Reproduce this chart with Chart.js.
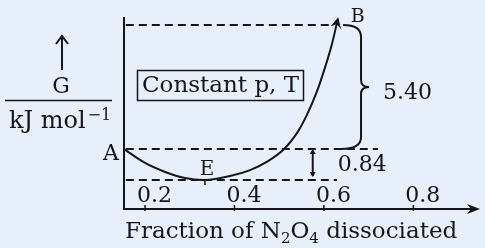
<!DOCTYPE html>
<html>
<head>
<meta charset="utf-8">
<script src="https://cdn.jsdelivr.net/npm/chart.js@4/dist/chart.umd.min.js"></script>
<style>
  html, body { margin: 0; padding: 0; background: #e7effb; }
  canvas { display: block; }
</style>
</head>
<body>
<canvas id="chart" width="485" height="248"></canvas>
<script>
// fraction of N2O4 dissociated along the drawn curve
var fraction = [0.153, 0.2, 0.245, 0.289, 0.334, 0.39, 0.435, 0.475, 0.511, 0.54, 0.562, 0.584, 0.602, 0.618, 0.631];
// G in sketch units (E = 0, A = 1, B = 5), the figure is not to scale
var gibbs = [1.0, 0.55, 0.26, 0.065, 0.0, 0.13, 0.32, 0.61, 1.0, 1.52, 2.1, 2.84, 3.61, 4.39, 5.19];

var xTicks = [0.2, 0.4, 0.6, 0.8];
var xTickLabels = ['0.2', '0.4', '0.6', '0.8'];

var levelB = 5;
var levelA = 1;
var levelE = 0;
var pointE = 0.334;
// where each dashed guide stops
var guideStart = 0.157;
var guideEnds = [0.618, 0.721, 0.629];
var gapAB = '5.40';
var gapAE = '0.84';

(function(Chart) {
  'use strict';

  var INK = '#161616';
  var FONT = 'DejaVu Serif';

  function font(size) {
    return size + 'px "' + FONT + '"';
  }

  function guide(level, end) {
    return {
      data: [{ x: guideStart, y: level }, { x: end, y: level }],
      borderColor: INK,
      borderWidth: 1.8,
      borderDash: [8, 5],
      pointRadius: 0
    };
  }

  var sketch = {
    id: 'sketch',

    afterDraw: function(chart) {
      var ctx = chart.ctx;
      var xs = chart.scales.x;
      var ys = chart.scales.y;
      var px = function(v) { return xs.getPixelForValue(v); };
      var py = function(v) { return ys.getPixelForValue(v); };
      var left = xs.left, right = xs.right, top = ys.top, bottom = ys.bottom;

      ctx.save();
      ctx.strokeStyle = INK;
      ctx.fillStyle = INK;
      ctx.lineWidth = 2;
      ctx.lineCap = 'butt';

      // axes
      ctx.beginPath();
      ctx.moveTo(left, top);
      ctx.lineTo(left, bottom + 1);
      ctx.moveTo(left, bottom);
      ctx.lineTo(right - 4, bottom);
      ctx.stroke();
      ctx.beginPath();
      ctx.moveTo(right, bottom);
      ctx.lineTo(right - 13, bottom - 5);
      ctx.lineTo(right - 9, bottom);
      ctx.lineTo(right - 13, bottom + 5);
      ctx.closePath();
      ctx.fill();

      // ticks, labels sit above the axis
      ctx.lineWidth = 1.5;
      ctx.font = font(22);
      ctx.textBaseline = 'middle';
      ctx.textAlign = 'left';
      xTicks.forEach(function(t, i) {
        var x = px(t);
        ctx.beginPath();
        ctx.moveTo(x, bottom - 4);
        ctx.lineTo(x, bottom + 2);
        ctx.stroke();
        ctx.fillText(xTickLabels[i], x - 8, bottom - 13);
      });

      // mark under E
      ctx.beginPath();
      ctx.moveTo(px(pointE), py(levelE) - 1);
      ctx.lineTo(px(pointE), py(levelE) + 5);
      ctx.stroke();

      // arrow head at the end of the curve
      var n = fraction.length;
      var tx = px(fraction[n - 1]), ty = py(gibbs[n - 1]);
      var ang = Math.atan2(ty - py(gibbs[n - 2]), tx - px(fraction[n - 2]));
      ctx.save();
      ctx.translate(tx, ty);
      ctx.rotate(ang);
      ctx.beginPath();
      ctx.moveTo(2, 0);
      ctx.lineTo(-9, -5.5);
      ctx.lineTo(-5, 0);
      ctx.lineTo(-9, 5.5);
      ctx.closePath();
      ctx.fill();
      ctx.restore();

      // brace between A and B
      var bx = px(0.683), yb = py(levelB), ya = py(levelA), mid = (yb + ya) / 2;
      ctx.lineWidth = 2;
      ctx.beginPath();
      ctx.moveTo(bx - 18, yb);
      ctx.quadraticCurveTo(bx, yb, bx, yb + 12);
      ctx.lineTo(bx, mid - 7);
      ctx.quadraticCurveTo(bx, mid, bx + 8, mid);
      ctx.quadraticCurveTo(bx, mid, bx, mid + 7);
      ctx.lineTo(bx, ya - 12);
      ctx.quadraticCurveTo(bx, ya, bx - 20, ya);
      ctx.stroke();

      // double arrow between E and A
      var ix = px(0.575), ye = py(levelE);
      ctx.beginPath();
      ctx.moveTo(ix, ya + 2);
      ctx.lineTo(ix, ye - 4);
      ctx.stroke();
      ctx.beginPath();
      ctx.moveTo(ix, ya);
      ctx.lineTo(ix - 3, ya + 5);
      ctx.lineTo(ix + 3, ya + 5);
      ctx.closePath();
      ctx.moveTo(ix, ye - 3);
      ctx.lineTo(ix - 3, ye - 8);
      ctx.lineTo(ix + 3, ye - 8);
      ctx.closePath();
      ctx.fill();

      // point and gap labels
      ctx.font = font(22);
      ctx.textAlign = 'left';
      ctx.fillText(gapAB, bx + 22, mid + 6);
      ctx.fillText(gapAE, ix + 25, ya + 16);
      ctx.textAlign = 'right';
      ctx.fillText('A', left - 5, ya + 5);
      ctx.textAlign = 'center';
      ctx.font = font(20);
      ctx.fillText('E', px(pointE) + 2, ye - 10);
      ctx.font = font(19);
      ctx.fillText('B', tx + 20, top);

      // condition box
      ctx.lineWidth = 1.5;
      ctx.strokeRect(left + 13.5, top + 53.5, 166, 30);
      ctx.font = font(23);
      ctx.textAlign = 'left';
      ctx.fillText('Constant p, T', left + 18, top + 69);

      // y label as a fraction G / kJ mol-1
      ctx.lineWidth = 2;
      ctx.beginPath();
      ctx.moveTo(62, 70);
      ctx.lineTo(62, 37);
      ctx.moveTo(56, 44);
      ctx.lineTo(62, 36);
      ctx.lineTo(68, 44);
      ctx.stroke();
      ctx.textAlign = 'center';
      ctx.font = font(22);
      ctx.fillText('G', 61, 87);
      ctx.beginPath();
      ctx.moveTo(5, 100.5);
      ctx.lineTo(112, 100.5);
      ctx.lineWidth = 1.5;
      ctx.stroke();
      ctx.textAlign = 'left';
      ctx.textBaseline = 'alphabetic';
      ctx.font = font(24);
      ctx.fillText('kJ mol', 9, 128);
      var w = ctx.measureText('kJ mol').width;
      ctx.font = font(16);
      ctx.fillText('\u22121', 9 + w + 2, 120);

      // x title with subscripts
      var parts = [['Fraction of N', 23, 0], ['2', 15, 5], ['O', 23, 0], ['4', 15, 5], [' dissociated', 23, 0]];
      var x = 125;
      parts.forEach(function(p) {
        ctx.font = font(p[1]);
        ctx.fillText(p[0], x, 238 + p[2]);
        x += ctx.measureText(p[0]).width;
      });

      ctx.restore();
    }
  };

  new Chart(document.getElementById('chart'), {
    type: 'line',
    data: {
      datasets: [
        {
          data: fraction.map(function(f, i) { return { x: f, y: gibbs[i] }; }),
          borderColor: INK,
          borderWidth: 2,
          pointRadius: 0,
          tension: 0.35
        },
        guide(levelB, guideEnds[0]),
        guide(levelA, guideEnds[1]),
        guide(levelE, guideEnds[2])
      ]
    },
    options: {
      responsive: false,
      animation: false,
      events: [],
      layout: { padding: { left: 124, right: 5, top: 17, bottom: 39 } },
      plugins: { legend: { display: false }, tooltip: { enabled: false } },
      scales: {
        x: { type: 'linear', display: false, min: 0.153, max: 0.949 },
        y: { type: 'linear', display: false, min: -0.935, max: 5.258 }
      }
    },
    plugins: [sketch]
  });

}(Chart));
</script>
</body>
</html>
